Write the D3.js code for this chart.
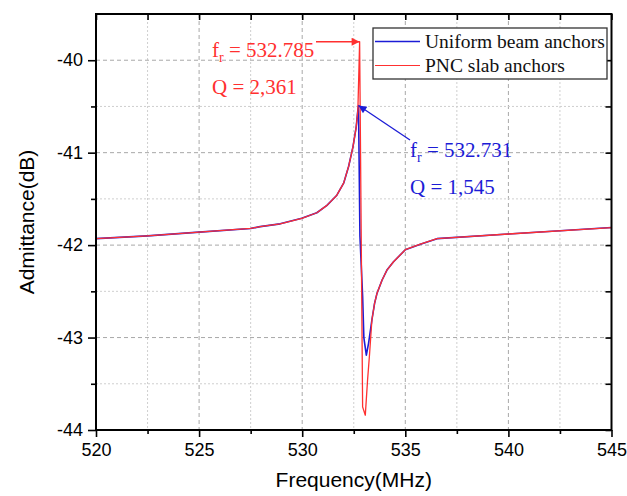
<!DOCTYPE html>
<html>
<head>
<meta charset="utf-8">
<script src="https://cdn.jsdelivr.net/npm/d3@7/dist/d3.min.js"></script>
<style>
  html, body { margin: 0; padding: 0; background: #fff; }
  svg { display: block; }
</style>
</head>
<body>
<svg id="chart" width="627" height="496"></svg>
<script>
// Admittance response around the resonance for two anchor designs
const uniformFreq = [520, 522.5, 525, 527.5, 527.96, 528.93, 529.98, 530.71, 531.2, 531.68, 532.01, 532.25, 532.46, 532.62, 532.7, 532.731,
  532.8, 532.93, 532.99, 533.11, 533.22, 533.38, 533.51, 533.63, 533.87, 534.11, 534.43, 535, 535.73, 536.54, 540, 545];
const uniformDB = [-41.93, -41.9, -41.86, -41.82, -41.8, -41.77, -41.71, -41.65, -41.57, -41.46, -41.33, -41.15, -40.94, -40.72, -40.54, -40.49,
  -41.9, -42.55, -43.0, -43.19, -43.06, -42.81, -42.63, -42.52, -42.38, -42.27, -42.18, -42.05, -41.99, -41.93, -41.88, -41.81];

const pncFreq = [520, 522.5, 525, 527.5, 527.96, 528.93, 529.98, 530.71, 531.2, 531.68, 532.01, 532.25, 532.46, 532.62, 532.7, 532.785,
  532.93, 533.06, 533.17, 533.27, 533.38, 533.51, 533.63, 533.87, 534.11, 534.43, 535, 535.73, 536.54, 540, 545];
const pncDB = [-41.93, -41.9, -41.86, -41.82, -41.8, -41.77, -41.71, -41.65, -41.57, -41.46, -41.33, -41.15, -40.94, -40.72, -40.54, -39.8,
  -43.75, -43.84, -43.46, -43.17, -42.81, -42.63, -42.52, -42.38, -42.27, -42.18, -42.05, -41.99, -41.93, -41.88, -41.81];

const seriesNames = ["Uniform beam anchors", "PNC slab anchors"];
const xTicks = [520, 525, 530, 535, 540, 545];
const xMinor = [522.5, 527.5, 532.5, 537.5, 542.5];
const yTicks = [-44, -43, -42, -41, -40];
const yMinor = [-43.5, -42.5, -41.5, -40.5];

// Resonance annotations
const uniformPeak = { f: 532.731, db: -40.49, label: "532.731", q: "1,545" };
const pncPeak = { f: 532.785, db: -39.8, label: "532.785", q: "2,361" };

const colBlue = "#1c1cd6";
const colRed = "#ff3030";

const svg = d3.select("#chart");
const L = 96, R = 611.5, T = 14, B = 430;

const x = d3.scaleLinear().domain([520, 545]).range([L, R]);
const y = d3.scaleLinear().domain([-44, -39.5]).range([B, T]);

// grid
const grid = svg.append("g");
grid.selectAll("line.vmaj").data(xTicks.slice(1, -1)).enter().append("line")
  .attr("x1", d => x(d)).attr("x2", d => x(d)).attr("y1", T).attr("y2", B)
  .attr("stroke", "#a8a8a8").attr("stroke-width", 1).attr("stroke-dasharray", "4,3");
grid.selectAll("line.vmin").data(xMinor).enter().append("line")
  .attr("x1", d => x(d)).attr("x2", d => x(d)).attr("y1", T).attr("y2", B)
  .attr("stroke", "#cfcfcf").attr("stroke-width", 1).attr("stroke-dasharray", "2,2");
grid.selectAll("line.hmaj").data(yTicks.slice(1)).enter().append("line")
  .attr("y1", d => y(d)).attr("y2", d => y(d)).attr("x1", L).attr("x2", R)
  .attr("stroke", "#a8a8a8").attr("stroke-width", 1).attr("stroke-dasharray", "4,3");
grid.selectAll("line.hmin").data(yMinor).enter().append("line")
  .attr("y1", d => y(d)).attr("y2", d => y(d)).attr("x1", L).attr("x2", R)
  .attr("stroke", "#cfcfcf").attr("stroke-width", 1).attr("stroke-dasharray", "2,2");

// curves
const line = d3.line().x(d => x(d[0])).y(d => y(d[1]));
const uniformPts = uniformFreq.map((f, i) => [f, uniformDB[i]]);
const pncPts = pncFreq.map((f, i) => [f, pncDB[i]]);
svg.append("path").attr("d", line(uniformPts)).attr("fill", "none")
  .attr("stroke", colBlue).attr("stroke-width", 1.6).attr("stroke-linejoin", "round");
svg.append("path").attr("d", line(pncPts)).attr("fill", "none")
  .attr("stroke", colRed).attr("stroke-width", 1.3).attr("stroke-linejoin", "round");

// axes
const tickFont = "'Liberation Sans', Arial, sans-serif";
const plain = d => String(d);
function styleAxis(g) {
  g.select(".domain").remove();
  g.selectAll("line").attr("stroke", "#000").attr("stroke-width", 1.6);
  g.selectAll("text").attr("font-family", tickFont).attr("font-size", 18).attr("fill", "#000");
}
svg.append("g").attr("transform", `translate(0,${B})`)
  .call(d3.axisBottom(x).tickValues(xTicks).tickSize(7).tickPadding(6).tickFormat(plain))
  .call(styleAxis);
svg.append("g").attr("transform", `translate(0,${B})`)
  .call(d3.axisBottom(x).tickValues(xMinor).tickSize(4).tickFormat(""))
  .call(styleAxis);
svg.append("g").attr("transform", `translate(${L},0)`)
  .call(d3.axisLeft(y).tickValues(yTicks).tickSize(8).tickPadding(5).tickFormat(plain))
  .call(styleAxis);
svg.append("g").attr("transform", `translate(${L},0)`)
  .call(d3.axisLeft(y).tickValues(yMinor).tickSize(5).tickFormat(""))
  .call(styleAxis);
svg.append("g").attr("transform", `translate(0,${T})`)
  .call(d3.axisTop(x).tickValues(xTicks.concat(xMinor)).tickSize(-6).tickFormat(""))
  .call(styleAxis);
svg.append("g").attr("transform", `translate(${R},0)`)
  .call(d3.axisRight(y).tickValues(yTicks.concat(yMinor)).tickSize(-6).tickFormat(""))
  .call(styleAxis);

// frame
svg.append("rect").attr("x", L).attr("y", T).attr("width", R - L).attr("height", B - T)
  .attr("fill", "none").attr("stroke", "#000").attr("stroke-width", 2);

// axis titles
svg.append("text").attr("x", (L + R) / 2).attr("y", 487).attr("text-anchor", "middle")
  .attr("font-family", tickFont).attr("font-size", 21).text("Frequency(MHz)");
svg.append("text").attr("transform", `translate(34,${(T + B) / 2}) rotate(-90)`).attr("text-anchor", "middle")
  .attr("font-family", tickFont).attr("font-size", 21).text("Admittance(dB)");

// arrowheads
const defs = svg.append("defs");
[["arrRed", colRed], ["arrBlue", colBlue]].forEach(([id, c]) => {
  defs.append("marker").attr("id", id).attr("viewBox", "0 0 10 10").attr("refX", 10).attr("refY", 5)
    .attr("markerWidth", 10).attr("markerHeight", 8).attr("markerUnits", "userSpaceOnUse").attr("orient", "auto")
    .append("path").attr("d", "M0,0 L10,5 L0,10 Z").attr("fill", c);
});

const serif = "'Liberation Serif', 'Times New Roman', serif";
function annotate(cx, cy, color, p) {
  const t = svg.append("text").attr("x", cx).attr("y", cy).attr("font-family", serif)
    .attr("font-size", 21).attr("fill", color);
  t.append("tspan").text("f");
  t.append("tspan").attr("font-size", 14).attr("dy", 5).text("r");
  t.append("tspan").attr("dy", -5).text(" = " + p.label);
  svg.append("text").attr("x", cx).attr("y", cy + 37).attr("font-family", serif)
    .attr("font-size", 21).attr("fill", color).text("Q = " + p.q);
  return t;
}
annotate(212, 57, colRed, pncPeak);
annotate(410, 157, colBlue, uniformPeak);

svg.append("line").attr("x1", 316).attr("y1", y(pncPeak.db)).attr("x2", x(pncPeak.f)).attr("y2", y(pncPeak.db))
  .attr("stroke", colRed).attr("stroke-width", 1.3).attr("marker-end", "url(#arrRed)");
svg.append("line").attr("x1", 410).attr("y1", 140).attr("x2", x(uniformPeak.f)).attr("y2", y(uniformPeak.db))
  .attr("stroke", colBlue).attr("stroke-width", 1.3).attr("marker-end", "url(#arrBlue)");

// legend
const lg = svg.append("g");
lg.append("rect").attr("x", 373).attr("y", 28).attr("width", 234).attr("height", 51)
  .attr("fill", "#fff").attr("stroke", "#333").attr("stroke-width", 1.3);
const lgItems = [[seriesNames[0], colBlue, 1.6], [seriesNames[1], colRed, 1.2]];
lgItems.forEach(([name, c, w], i) => {
  const yy = 41.5 + i * 24;
  lg.append("line").attr("x1", 375).attr("x2", 420).attr("y1", yy).attr("y2", yy)
    .attr("stroke", c).attr("stroke-width", w);
  lg.append("text").attr("x", 425).attr("y", yy + 6.5).attr("font-family", serif)
    .attr("font-size", 19.5).attr("fill", "#111").text(name);
});
</script>
</body>
</html>
